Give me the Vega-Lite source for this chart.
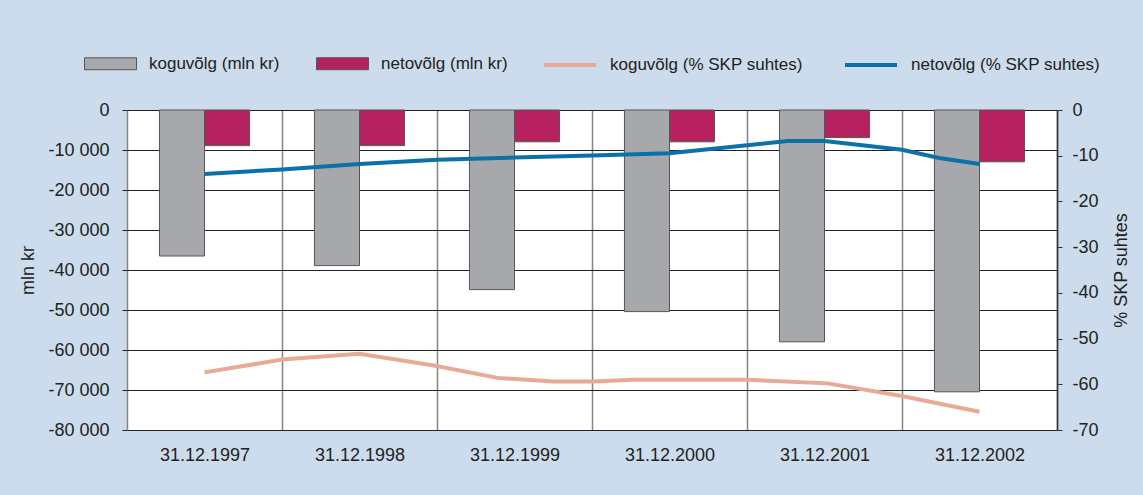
{
  "$schema": "https://vega.github.io/schema/vega-lite/v6.json",
  "autosize": "none",
  "width": 930,
  "height": 320,
  "padding": {"left": 127, "top": 110, "right": 86, "bottom": 65},
  "background": "#ccdcec",
  "config": {
    "font": "Liberation Sans",
    "view": {"fill": "white", "stroke": null},
    "axis": {"labelFont": "Liberation Sans", "titleFont": "Liberation Sans", "labelColor": "#222", "titleColor": "#222", "labelFontSize": 18, "titleFontSize": 18, "titleFontWeight": "normal"},
    "legend": {"layout": {"top": {"anchor": "middle", "direction": "horizontal", "margin": 34}}}
  },
  "datasets": {
    "bars": [
      {"date": "31.12.1997", "series": "koguvõlg (mln kr)", "value": -36500},
      {"date": "31.12.1997", "series": "netovõlg (mln kr)", "value": -8900},
      {"date": "31.12.1998", "series": "koguvõlg (mln kr)", "value": -38900},
      {"date": "31.12.1998", "series": "netovõlg (mln kr)", "value": -8900},
      {"date": "31.12.1999", "series": "koguvõlg (mln kr)", "value": -44900},
      {"date": "31.12.1999", "series": "netovõlg (mln kr)", "value": -7950},
      {"date": "31.12.2000", "series": "koguvõlg (mln kr)", "value": -50400},
      {"date": "31.12.2000", "series": "netovõlg (mln kr)", "value": -7950},
      {"date": "31.12.2001", "series": "koguvõlg (mln kr)", "value": -57950},
      {"date": "31.12.2001", "series": "netovõlg (mln kr)", "value": -6900},
      {"date": "31.12.2002", "series": "koguvõlg (mln kr)", "value": -70450},
      {"date": "31.12.2002", "series": "netovõlg (mln kr)", "value": -12950}
    ],
    "lines": [
      {"series": "koguvõlg (% SKP suhtes)", "t": 1997.0, "pct": -57.4},
      {"series": "koguvõlg (% SKP suhtes)", "t": 1997.5, "pct": -54.6},
      {"series": "koguvõlg (% SKP suhtes)", "t": 1998.0, "pct": -53.3},
      {"series": "koguvõlg (% SKP suhtes)", "t": 1998.48, "pct": -55.9},
      {"series": "koguvõlg (% SKP suhtes)", "t": 1998.89, "pct": -58.6},
      {"series": "koguvõlg (% SKP suhtes)", "t": 1999.25, "pct": -59.4},
      {"series": "koguvõlg (% SKP suhtes)", "t": 1999.51, "pct": -59.4},
      {"series": "koguvõlg (% SKP suhtes)", "t": 1999.76, "pct": -59.0},
      {"series": "koguvõlg (% SKP suhtes)", "t": 2000.5, "pct": -59.0},
      {"series": "koguvõlg (% SKP suhtes)", "t": 2001.02, "pct": -59.8},
      {"series": "koguvõlg (% SKP suhtes)", "t": 2001.49, "pct": -62.5},
      {"series": "koguvõlg (% SKP suhtes)", "t": 2002.0, "pct": -66.0},
      {"series": "netovõlg (% SKP suhtes)", "t": 1997.0, "pct": -14.0},
      {"series": "netovõlg (% SKP suhtes)", "t": 1997.5, "pct": -13.0},
      {"series": "netovõlg (% SKP suhtes)", "t": 1998.0, "pct": -11.8},
      {"series": "netovõlg (% SKP suhtes)", "t": 1998.5, "pct": -10.9},
      {"series": "netovõlg (% SKP suhtes)", "t": 1999.0, "pct": -10.4},
      {"series": "netovõlg (% SKP suhtes)", "t": 1999.5, "pct": -9.95},
      {"series": "netovõlg (% SKP suhtes)", "t": 2000.0, "pct": -9.45},
      {"series": "netovõlg (% SKP suhtes)", "t": 2000.76, "pct": -6.8},
      {"series": "netovõlg (% SKP suhtes)", "t": 2001.0, "pct": -6.8},
      {"series": "netovõlg (% SKP suhtes)", "t": 2001.5, "pct": -8.7},
      {"series": "netovõlg (% SKP suhtes)", "t": 2001.74, "pct": -10.5},
      {"series": "netovõlg (% SKP suhtes)", "t": 2002.0, "pct": -11.8}
    ]
  },
  "layer": [
    {
      "data": {"name": "bars"},
      "mark": {"type": "bar", "stroke": "#555", "strokeWidth": 1},
      "encoding": {
        "x": {
          "field": "date", "type": "nominal", "sort": null,
          "scale": {"paddingInner": 0, "paddingOuter": 0},
          "axis": {"title": null, "labelAngle": 0, "ticks": false, "tickSize": 0, "domain": false, "labelPadding": 16, "grid": true, "tickBand": "extent", "gridColor": "#858585", "gridWidth": 1.5, "gridOpacity": 1}
        },
        "xOffset": {
          "field": "series", "type": "nominal",
          "scale": {"domain": ["koguvõlg (mln kr)", "netovõlg (mln kr)"], "paddingInner": 0, "paddingOuter": 0.72}
        },
        "y": {
          "field": "value", "type": "quantitative",
          "scale": {"domain": [-80000, 0], "nice": false},
          "axis": {"title": "mln kr", "values": [-80000, -70000, -60000, -50000, -40000, -30000, -20000, -10000, 0], "labelExpr": "datum.value < 0 ? '-' + replace(format(-datum.value, ','), ',', ' ') : '0'", "domain": false, "tickSize": 5, "tickColor": "#222", "labelPadding": 13, "grid": true, "gridColor": "#222", "gridWidth": 1, "gridOpacity": 1, "titlePadding": 10}
        },
        "fill": {
          "field": "series", "type": "nominal",
          "scale": {"domain": ["koguvõlg (mln kr)", "netovõlg (mln kr)"], "range": ["#a7a8ac", "#b5225f"]},
          "legend": {
            "title": null, "orient": "top", "direction": "horizontal", "offset": 37,
            "symbolType": "M-1,-0.23H1V0.23H-1Z", "symbolStrokeColor": "#555", "symbolStrokeWidth": 1, "symbolOpacity": 1,
            "symbolSize": 2704, "labelFontSize": 17, "labelFont": "Liberation Sans", "labelColor": "#222", "labelOffset": 12, "columnPadding": 34, "labelLimit": 400
          }
        }
      }
    },
    {
      "data": {"name": "lines"},
      "mark": {"type": "line", "strokeWidth": 4},
      "encoding": {
        "x": {"field": "t", "type": "quantitative", "scale": {"domain": [1996.5, 2002.5], "nice": false, "zero": false}, "axis": null},
        "y": {
          "field": "pct", "type": "quantitative",
          "scale": {"domain": [-70, 0], "nice": false},
          "axis": {"orient": "right", "title": "% SKP suhtes", "titleAngle": 270, "values": [-70, -60, -50, -40, -30, -20, -10, 0], "labelExpr": "datum.value < 0 ? '-' + (-datum.value) : '0'", "grid": false, "domain": true, "domainColor": "#333", "domainWidth": 1.5, "tickColor": "#333", "tickSize": 5, "labelPadding": 10, "titlePadding": 32}
        },
        "stroke": {
          "field": "series", "type": "nominal",
          "scale": {"domain": ["koguvõlg (% SKP suhtes)", "netovõlg (% SKP suhtes)"], "range": ["#e8a996", "#0a72a8"]},
          "legend": {
            "title": null, "orient": "top", "direction": "horizontal", "offset": 37,
            "symbolType": "stroke", "symbolStrokeWidth": 4, "symbolOpacity": 1,
            "symbolSize": 2704, "labelFontSize": 17, "labelFont": "Liberation Sans", "labelColor": "#222", "labelOffset": 12, "columnPadding": 34, "labelLimit": 400
          }
        }
      }
    }
  ],
  "resolve": {"scale": {"x": "independent", "y": "independent"}}
}
